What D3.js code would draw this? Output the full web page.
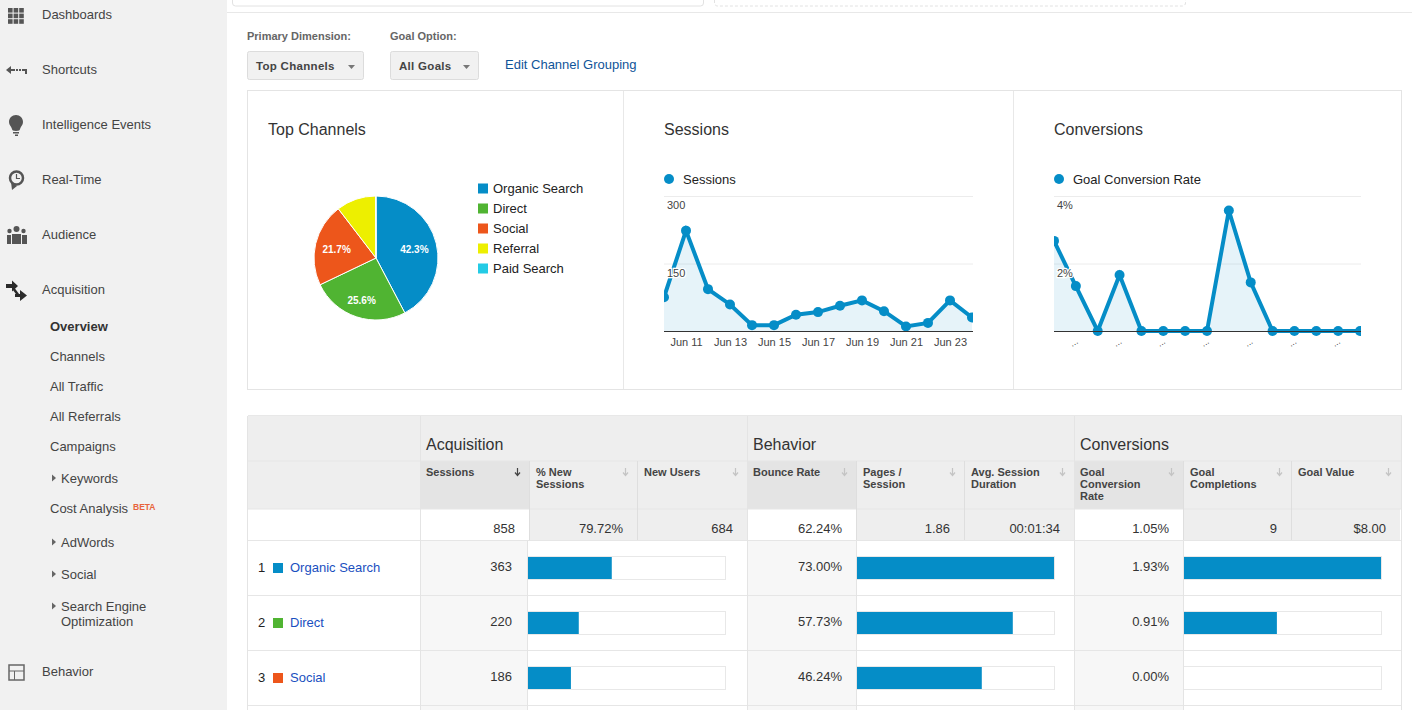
<!DOCTYPE html>
<html>
<head>
<meta charset="utf-8">
<script src="https://cdnjs.cloudflare.com/ajax/libs/d3/7.8.5/d3.min.js"></script>
<style>
  html, body { margin: 0; padding: 0; background: #fff; overflow: hidden; }
  text { font-family: "Liberation Sans", Arial, sans-serif; }
</style>
</head>
<body>
<div id="chart"></div>
<script>
// sidebar text
const navMain = ["Dashboards", "Shortcuts", "Intelligence Events", "Real-Time", "Audience", "Acquisition", "Behavior"];
const navSub = ["Overview", "Channels", "All Traffic", "All Referrals", "Campaigns", "Cost Analysis"];
const navExpand = [["Keywords"], ["AdWords"], ["Social"], ["Search Engine", "Optimization"]];

// pie
const channels = ["Organic Search", "Direct", "Social", "Referral", "Paid Search"];
const channelShare = [42.3, 25.6, 21.7, 10.3, 0.1];
const channelColors = ["#058dc7", "#50b432", "#ed561b", "#edef00", "#24cbe5"];

// line charts, Jun 10 - Jun 24
const days = [10, 11, 12, 13, 14, 15, 16, 17, 18, 19, 20, 21, 22, 23, 24];
const sessions = [75, 223, 93, 59, 13, 13, 36, 42, 56, 68, 44, 10, 18, 68, 30];
const conversionRate = [2.67, 1.33, 0, 1.66, 0, 0, 0, 0, 3.57, 1.44, 0, 0, 0, 0, 0];

// table
const groups = ["Acquisition", "Behavior", "Conversions"];
const columnHeads = [
  ["Sessions"], ["% New", "Sessions"], ["New Users"],
  ["Bounce Rate"], ["Pages /", "Session"], ["Avg. Session", "Duration"],
  ["Goal", "Conversion", "Rate"], ["Goal", "Completions"], ["Goal Value"]
];
const totals = ["858", "79.72%", "684", "62.24%", "1.86", "00:01:34", "1.05%", "9", "$8.00"];
const rowSessions = [363, 220, 186];
const rowBounce = [73.00, 57.73, 46.24];
const rowConversion = [1.93, 0.91, 0.00];

const svg = d3.select("#chart").append("svg")
  .attr("width", 1412)
  .attr("height", 710)
  .style("display", "block");

function label(parent, x, y, str, size, color, weight, anchor) {
  return parent.append("text")
    .attr("x", x).attr("y", y)
    .attr("font-size", size)
    .attr("fill", color || "#333")
    .attr("font-weight", weight || "normal")
    .attr("text-anchor", anchor || "start")
    .text(str);
}

function box(parent, x, y, w, h, fill, stroke) {
  return parent.append("rect")
    .attr("x", x).attr("y", y).attr("width", w).attr("height", h)
    .attr("fill", fill || "none")
    .attr("stroke", stroke || "none");
}

// ---------- sidebar
const side = svg.append("g");
box(side, 0, 0, 227, 710, "#f1f1f1");

const mainY = [14, 69, 124, 179, 234, 289, 671];
navMain.forEach((d, i) => label(side, 42, mainY[i] + 5, d, 13, "#444"));

const subY = [326, 356, 386, 416, 446, 508];
navSub.forEach((d, i) => label(side, 50, subY[i] + 5, d, 13, i == 0 ? "#333" : "#444", i == 0 ? "bold" : "normal"));
label(side, 133, 510, "BETA", 8.5, "#e8643c", "bold");

const expandY = [478, 542, 574, 606];
navExpand.forEach((lines, i) => {
  side.append("path")
    .attr("d", `M52,${expandY[i] - 3.5}l4,3.5l-4,3.5z`)
    .attr("fill", "#666");
  lines.forEach((d, j) => label(side, 61, expandY[i] + 5 + j * 15, d, 13, "#444"));
});

// sidebar icons
const ic = side.append("g").attr("fill", "#555");
d3.range(3).forEach(r => d3.range(3).forEach(c => {
  box(ic, 8 + c * 5.6, 8 + r * 5.6, 4.6, 4.6, "#555");
}));
ic.append("path").attr("d", "M6,70l5,-4v3h4v2h-4v3z M16,69h2v2h-2z M19,69h2v2h-2z M22,69h5v5h-2v-3h-3z");
ic.append("path").attr("d", "M16,115c4,0 7,3 7,7c0,3 -2,4 -3,7c0,1 -1,2 -4,2s-4,-1 -4,-2c-1,-3 -3,-4 -3,-7c0,-4 3,-7 7,-7z M13,132h6v1.5h-6z M15,134.5h3v1.5h-3z");
side.append("circle").attr("cx", 16.5).attr("cy", 178).attr("r", 6.5).attr("fill", "none").attr("stroke", "#555").attr("stroke-width", 2.5);
ic.append("path").attr("d", "M11,182l1,8l5,-4z");
side.append("path").attr("d", "M16.5,174v4.5h3.5").attr("fill", "none").attr("stroke", "#555").attr("stroke-width", 1.2);
ic.append("circle").attr("cx", 16.5).attr("cy", 229).attr("r", 3);
ic.append("circle").attr("cx", 9.5).attr("cy", 231).attr("r", 2.2);
ic.append("circle").attr("cx", 23.5).attr("cy", 231).attr("r", 2.2);
ic.append("path").attr("d", "M12,234h9v10h-9z M7,235h4v9h-4z M22,235h5v9h-5z");
side.append("path")
  .attr("d", "M6,284h6v-3.5l6,5.5l-6,5.5v-3.5h-6z M15,294h5v-4l7,5.5l-7,5.5v-4h-5z")
  .attr("fill", "#2b2b2b");
side.append("path").attr("d", "M13,288l6,8").attr("stroke", "#2b2b2b").attr("stroke-width", 2.5);
box(side, 9, 665, 15, 15, "none", "#666").attr("stroke-width", 1.5);
side.append("path").attr("d", "M9,671h15M14.5,671v9").attr("stroke", "#666").attr("fill", "none");

// ---------- top strip and controls
const top_ = svg.append("g");
top_.append("path").attr("d", "M232.5,-5v8a3,3 0 0 0 3,3h465a3,3 0 0 0 3,-3v-8").attr("fill", "none").attr("stroke", "#e2e2e2");
top_.append("path").attr("d", "M714.5,-5v8a3,3 0 0 0 3,3h465a3,3 0 0 0 3,-3v-8").attr("fill", "none").attr("stroke", "#e2e2e2").attr("stroke-dasharray", "3,2");
top_.append("line").attr("x1", 227).attr("x2", 1412).attr("y1", 12.5).attr("y2", 12.5).attr("stroke", "#e8e8e8");

label(top_, 247, 40, "Primary Dimension:", 11, "#666", "bold");
label(top_, 390, 40, "Goal Option:", 11, "#666", "bold");
box(top_, 247.5, 51.5, 116, 28, "#f1f1f1", "#dcdcdc").attr("rx", 2);
box(top_, 390.5, 51.5, 88, 28, "#f1f1f1", "#dcdcdc").attr("rx", 2);
label(top_, 256, 70, "Top Channels", 11.5, "#444", "bold").attr("letter-spacing", 0.3);
label(top_, 399, 70, "All Goals", 11.5, "#444", "bold").attr("letter-spacing", 0.3);
top_.append("path").attr("d", "M348,65h7l-3.5,4z").attr("fill", "#777");
top_.append("path").attr("d", "M463,65h7l-3.5,4z").attr("fill", "#777");
label(top_, 505, 69, "Edit Channel Grouping", 13, "#0f5499");

// ---------- chart panel
const panel = svg.append("g");
box(panel, 247.5, 90.5, 1154, 299, "#fff", "#e4e4e4");
panel.append("path").attr("d", "M623.5,91v298M1013.5,91v298").attr("stroke", "#e8e8e8");
label(panel, 268, 135, "Top Channels", 16, "#333");
label(panel, 664, 135, "Sessions", 16, "#333");
label(panel, 1054, 135, "Conversions", 16, "#333");

// pie
const pieData = d3.pie().sort(null).value(d => d)(channelShare);
const arc = d3.arc().innerRadius(0).outerRadius(62);
const labelRadius = [40, 44, 40];
const pieG = panel.append("g").attr("transform", "translate(376,258)");
pieG.selectAll("path")
  .data(pieData)
  .enter()
  .append("path")
  .attr("d", arc)
  .attr("fill", (d, i) => channelColors[i])
  .attr("stroke", "#fff")
  .attr("stroke-width", 1);
pieG.selectAll("text")
  .data(pieData.filter(d => d.data > 20))
  .enter()
  .append("text")
  .attr("transform", (d, i) => {
    const r = labelRadius[i];
    const c = d3.arc().innerRadius(r).outerRadius(r).centroid(d);
    return `translate(${c[0] - 0.5},${c[1] + 1})`;
  })
  .attr("dy", "0.35em")
  .attr("text-anchor", "middle")
  .attr("font-size", 10)
  .attr("font-weight", "bold")
  .attr("fill", "#fff")
  .text(d => d.data.toFixed(1) + "%");

const legend = d3.scaleBand().domain(channels).range([178, 278]);
channels.forEach((d, i) => {
  box(panel, 478, legend(d) + 5.5, 10, 10, channelColors[i]);
  label(panel, 493, legend(d) + 15, d, 13, "#222");
});

// small line chart, used twice
function lineChart(values, opts) {
  const x = d3.scaleLinear().domain(d3.extent(days)).range([opts.left, opts.left + opts.span]);
  const y = d3.scaleLinear().domain([0, opts.max]).range([331, 196]);
  const clipId = "clip" + opts.left;
  const g = panel.append("g");

  g.append("circle").attr("cx", opts.left + 5).attr("cy", 179).attr("r", 5).attr("fill", "#058dc7");
  label(g, opts.left + 19, 184, opts.name, 13, "#222");

  g.append("clipPath").attr("id", clipId)
    .append("rect")
    .attr("x", opts.left).attr("y", 190)
    .attr("width", opts.clipW).attr("height", 150);

  const gridAxis = d3.axisLeft(y).tickValues(opts.ticks).tickSize(-opts.clipW).tickFormat("");
  const grid = g.append("g").attr("transform", `translate(${opts.left},0)`).call(gridAxis);
  grid.select(".domain").remove();
  grid.selectAll("line").attr("stroke", "#ececec");

  const plot = g.append("g").attr("clip-path", `url(#${clipId})`);
  plot.append("path")
    .attr("d", d3.area().x((d, i) => x(days[i])).y0(y(0)).y1(d => y(d))(values))
    .attr("fill", "#058dc7")
    .attr("fill-opacity", 0.1);

  const xAxis = d3.axisBottom(x).tickValues(days.filter(d => d % 2 == 1)).tickSize(0).tickPadding(7)
    .tickFormat(opts.xFormat);
  const xG = g.append("g").attr("transform", "translate(0,331)").call(xAxis);
  xG.select(".domain").remove();
  g.append("line")
    .attr("x1", opts.left).attr("x2", opts.left + opts.clipW)
    .attr("y1", 331.5).attr("y2", 331.5)
    .attr("stroke", "#333");
  xG.selectAll("text").attr("font-size", 11).attr("fill", "#444").attr("font-family", "Liberation Sans");
  if (opts.rotate) {
    xG.selectAll("text")
      .attr("font-size", 9)
      .attr("dy", 0)
      .attr("y", 0)
      .attr("fill", "#333")
      .attr("transform", "translate(-1,14) rotate(-30)");
  }

  plot.append("path")
    .attr("d", d3.line().x((d, i) => x(days[i])).y(d => y(d))(values))
    .attr("fill", "none")
    .attr("stroke", "#058dc7")
    .attr("stroke-width", 4);
  plot.selectAll("circle")
    .data(values)
    .enter()
    .append("circle")
    .attr("cx", (d, i) => x(days[i]))
    .attr("cy", d => y(d))
    .attr("r", 5)
    .attr("fill", "#058dc7");

  opts.ticks.forEach(t => {
    label(g, opts.left + 3, y(t) + 13, opts.yFormat(t), 11, "#444")
      .attr("stroke", "#fff").attr("stroke-width", 2.5).attr("paint-order", "stroke");
  });
}

lineChart(sessions, {
  name: "Sessions", left: 664, span: 308, clipW: 309, max: 300,
  ticks: [150, 300], yFormat: d => d,
  xFormat: d => "Jun " + d
});
lineChart(conversionRate, {
  name: "Goal Conversion Rate", left: 1054, span: 306, clipW: 307, max: 4,
  ticks: [2, 4], yFormat: d => d + "%",
  xFormat: () => "...", rotate: true
});

// ---------- table
const table = svg.append("g");
const colX = [421, 530, 638, 748, 857, 965, 1075, 1184, 1292, 1401];
const sortedCols = [0, 3, 6];
const ink = "#e4e4e4";

box(table, 248, 416, 1153, 93, "#eeeeee");
box(table, 248, 509, 1153, 32, "#fff");

// header and totals columns
columnHeads.forEach((lines, i) => {
  const sorted = sortedCols.includes(i);
  box(table, colX[i], 461, colX[i + 1] - colX[i] - 1, 48, sorted ? "#e4e4e4" : "#eeeeee");
  box(table, colX[i], 509, colX[i + 1] - colX[i] - 1, 31, sorted ? "#fff" : "#eeeeee");
  lines.forEach((d, j) => label(table, colX[i] + (sorted ? 5 : 6), 476 + j * 12, d, 11, "#444", "bold"));
  const ax = colX[i + 1] - 12.5;
  table.append("path")
    .attr("d", `M${ax},468v7M${ax - 2.5},472.5l2.5,3l2.5,-3`)
    .attr("fill", "none")
    .attr("stroke", i == 0 ? "#444" : "#c4c4c4")
    .attr("stroke-width", 1.2);
  label(table, colX[i + 1] - 15, 533, totals[i], 13, "#333", "normal", "end");
});

[0, 3, 6].forEach((c, i) => label(table, colX[c] + 5, 450, groups[i], 16, "#333"));

// body rows
const rowY = [541, 596, 651];
const barTrack = [528, 857, 1184];
const barScale = [
  d3.scaleLinear().domain([0, 858]).range([0, 198]),
  d3.scaleLinear().domain([0, 73]).range([0, 197]),
  d3.scaleLinear().domain([0, 1.93]).range([0, 197])
];
const rowValues = [rowSessions, rowBounce, rowConversion];
const rowFormat = [d => d, d => d.toFixed(2) + "%", d => d.toFixed(2) + "%"];

box(table, 248, 541, 1153, 169, "#fff");
[0, 1, 2, 3].forEach(r => {
  const y0 = r < 3 ? rowY[r] : 706;
  const h = r < 3 ? 54 : 4;
  box(table, 421, y0, 106, h, "#f7f7f7");
  box(table, 748, y0, 108, h, "#f7f7f7");
  box(table, 1075, y0, 108, h, "#f7f7f7");
});
rowValues.forEach((vals, c) => {
  vals.forEach((v, r) => {
    const cx = [colX[0], colX[3], colX[6]][c];
    label(table, cx + (c == 0 ? 91 : 94), rowY[r] + 30, rowFormat[c](v), 13, "#333", "normal", "end");
    box(table, barTrack[c] - 0.5, rowY[r] + 15.5, 198, 23, "#fff", "#e8e8e8");
    box(table, barTrack[c], rowY[r] + 16, barScale[c](v), 22, "#058dc7");
  });
});
channels.slice(0, 3).forEach((d, r) => {
  label(table, 258, rowY[r] + 31, r + 1, 13, "#222");
  box(table, 273, rowY[r] + 22, 10, 10, channelColors[r]);
  label(table, 290, rowY[r] + 31, d, 13, "#1a4fc0");
});

// table grid lines
table.append("path")
  .attr("d", [461, 509, 540.5, 595.5, 650.5, 705.5].map(y => `M248,${y}H1402`).join(""))
  .attr("stroke", "#e6e6e6").attr("fill", "none");
table.append("path")
  .attr("d", `M247.5,416V710M1401.5,416V710M420.5,416V710M747.5,416V710M1074.5,416V710M527.5,541V710M856.5,541V710M1183.5,541V710`)
  .attr("stroke", ink).attr("fill", "none");
table.append("path")
  .attr("d", `M248,415.5H1402`)
  .attr("stroke", "#e8e8e8").attr("fill", "none");
table.append("path")
  .attr("d", [529.5, 637.5, 856.5, 964.5, 1183.5, 1291.5].map(x => `M${x},461V540`).join(""))
  .attr("stroke", "#dedede").attr("fill", "none");
</script>
</body>
</html>
